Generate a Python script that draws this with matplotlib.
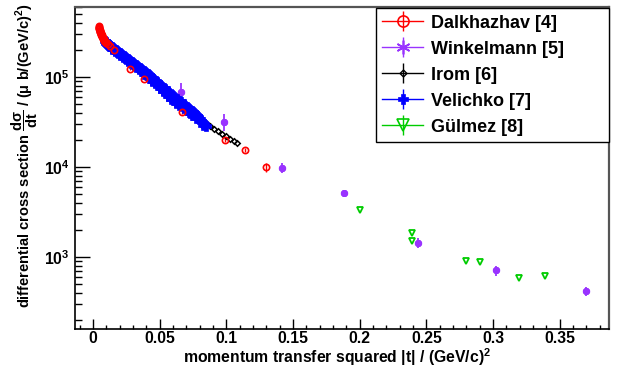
import matplotlib
matplotlib.use("Agg")
import matplotlib.pyplot as plt
from matplotlib.lines import Line2D
from matplotlib.ticker import FixedLocator, FixedFormatter, NullFormatter

# cross-section data, t in (GeV/c)^2, dsigma/dt in mub/(GeV/c)^2
dalk_t = [0.0042, 0.0044, 0.0045, 0.0047, 0.0048, 0.0050, 0.0051, 0.0053, 0.0055,
          0.0056, 0.0058, 0.0060, 0.0062, 0.0063, 0.0065, 0.0067, 0.0069, 0.0070,
          0.0073, 0.0075, 0.0078, 0.0080, 0.0083, 0.0085, 0.0088, 0.0090, 0.0095,
          0.0100, 0.0110, 0.0130, 0.0160, 0.0280, 0.0380, 0.0667, 0.0987, 0.1140,
          0.1300]
dalk_y = [3.67e5, 3.58e5, 3.52e5, 3.49e5, 3.40e5, 3.38e5, 3.28e5, 3.26e5, 3.18e5,
          3.16e5, 3.10e5, 3.03e5, 3.00e5, 2.95e5, 2.92e5, 2.86e5, 2.84e5, 2.80e5,
          2.76e5, 2.72e5, 2.68e5, 2.63e5, 2.60e5, 2.55e5, 2.53e5, 2.49e5, 2.45e5,
          2.40e5, 2.34e5, 2.20e5, 2.02e5, 1.24e5, 9.6e4, 4.1e4, 2.0e4, 1.55e4,
          1.0e4]
dalk_err = [6e3, 6e3, 6e3, 6e3, 6e3, 6e3, 6e3, 6e3, 6e3, 6e3, 6e3, 5e3, 5e3, 5e3,
            5e3, 5e3, 5e3, 5e3, 5e3, 5e3, 5e3, 5e3, 5e3, 5e3, 5e3, 5e3, 5e3, 5e3,
            5e3, 4e3, 4e3, 3e3, 2e3, 1.5e3, 1.2e3, 8e2, 1.2e3]

wink_t = [0.066, 0.098, 0.1418, 0.188, 0.2435, 0.302, 0.370]
wink_y = [6.8e4, 3.2e4, 9.9e3, 5.2e3, 1.45e3, 711, 415]
wink_err = [1.9e4, 7e3, 1.3e3, 4e2, 1.9e2, 90, 45]

irom_t = [0.070, 0.073, 0.076, 0.079, 0.082, 0.085, 0.088, 0.091, 0.094, 0.097,
          0.100, 0.103, 0.106, 0.108]
irom_y = [4.24e4, 3.97e4, 3.72e4, 3.49e4, 3.27e4, 3.06e4, 2.87e4, 2.69e4, 2.52e4,
          2.36e4, 2.21e4, 2.07e4, 1.95e4, 1.86e4]

vel_t = [0.0090, 0.0095, 0.0100, 0.0105, 0.0110, 0.0115, 0.0120, 0.0125, 0.0130,
         0.0140, 0.0145, 0.0150, 0.0160, 0.0165, 0.0170, 0.0180, 0.0185, 0.0190,
         0.0200, 0.0205, 0.0210, 0.0220, 0.0225, 0.0230, 0.0240, 0.0245, 0.0250,
         0.0260, 0.0265, 0.0270, 0.0280, 0.0285, 0.0290, 0.0300, 0.0305, 0.0310,
         0.0320, 0.0325, 0.0330, 0.0340, 0.0345, 0.0350, 0.0360, 0.0365, 0.0370,
         0.0380, 0.0385, 0.0390, 0.0400, 0.0405, 0.0410, 0.0420, 0.0425, 0.0430,
         0.0440, 0.0445, 0.0450, 0.0460, 0.0465, 0.0470, 0.0480, 0.0485, 0.0490,
         0.0500, 0.0505, 0.0510, 0.0520, 0.0525, 0.0530, 0.0540, 0.0545, 0.0550,
         0.0560, 0.0565, 0.0570, 0.0580, 0.0585, 0.0590, 0.0600, 0.0605, 0.0610,
         0.0620, 0.0625, 0.0630, 0.0640, 0.0645, 0.0650, 0.0660, 0.0665, 0.0670,
         0.0680, 0.0685, 0.0690, 0.0700, 0.0705, 0.0710, 0.0720, 0.0725, 0.0730,
         0.0740, 0.0745, 0.0750, 0.0760, 0.0770, 0.0775, 0.0780, 0.0790, 0.0800,
         0.0810, 0.0820, 0.0825, 0.0830, 0.0845]
vel_y = [2.50e5, 2.38e5, 2.44e5, 2.33e5, 2.36e5, 2.26e5, 2.30e5, 2.20e5, 2.23e5,
         2.18e5, 2.08e5, 2.12e5, 2.07e5, 1.96e5, 2.02e5, 1.96e5, 1.86e5, 1.90e5,
         1.86e5, 1.76e5, 1.81e5, 1.76e5, 1.67e5, 1.72e5, 1.68e5, 1.58e5, 1.63e5,
         1.60e5, 1.51e5, 1.55e5, 1.52e5, 1.43e5, 1.47e5, 1.44e5, 1.36e5, 1.40e5,
         1.37e5, 1.29e5, 1.33e5, 1.30e5, 1.22e5, 1.27e5, 1.23e5, 1.16e5, 1.20e5,
         1.18e5, 1.10e5, 1.14e5, 1.12e5, 1.05e5, 1.08e5, 1.05e5, 9.8e4, 1.02e5,
         9.9e4, 9.2e4, 9.6e4, 9.3e4, 8.6e4, 9.0e4, 8.8e4, 8.1e4, 8.5e4, 8.3e4,
         7.6e4, 7.9e4, 7.8e4, 7.0e4, 7.5e4, 7.4e4, 6.7e4, 7.1e4, 7.0e4, 6.2e4,
         6.6e4, 6.3e4, 5.8e4, 6.4e4, 6.2e4, 5.6e4, 6.0e4, 5.6e4, 5.2e4, 5.7e4,
         5.5e4, 4.9e4, 5.4e4, 5.3e4, 4.8e4, 5.1e4, 5.0e4, 4.5e4, 4.8e4, 4.7e4,
         4.3e4, 4.6e4, 4.4e4, 4.0e4, 4.35e4, 4.2e4, 3.8e4, 4.1e4, 4.0e4, 3.85e4,
         3.55e4, 3.7e4, 3.6e4, 3.45e4, 3.3e4, 3.15e4, 2.95e4, 3.0e4, 2.85e4]

gulm_t = [0.200, 0.2395, 0.2395, 0.280, 0.290, 0.3193, 0.339]
gulm_y = [3370, 1870, 1500, 912, 890, 589, 610]

labels = ["Dalkhazhav [4]", "Winkelmann [5]", "Irom [6]", "Velichko [7]", "G\u00fclmez [8]"]

red = "#ff0000"
purple = "#9933ff"
blue = "#0000ff"
green = "#00cc00"
black = "black"
star = (6, 2, 0)

plt.rcParams["font.family"] = ["Liberation Sans", "DejaVu Sans"]
plt.rcParams["font.weight"] = "bold"
plt.rcParams["mathtext.fontset"] = "custom"
plt.rcParams["mathtext.rm"] = "Liberation Sans:bold"
plt.rcParams["mathtext.it"] = "Liberation Sans:bold"
plt.rcParams["mathtext.bf"] = "Liberation Sans:bold"
fs = 11.3
legfs = 13

fig = plt.figure(figsize=(6.19, 3.71), dpi=100)
ax = fig.add_axes([75 / 619, 1 - 329.3 / 371, 534 / 619, 322 / 371])

ax.errorbar(dalk_t, dalk_y, yerr=dalk_err, fmt="o", ms=4.5, mfc="none", mec=red,
            mew=1.2, ecolor=red, elinewidth=1, capsize=0)
ax.errorbar(wink_t, wink_y, yerr=wink_err, fmt="none", ecolor=purple,
            elinewidth=1.3, capsize=0)
ax.plot(wink_t, wink_y, ls="none", marker=star, ms=5, mec=purple, mew=2.2)
ax.plot(irom_t, irom_y, ls="none", marker="D", ms=2.8, mfc="none", mec=black, mew=1.1)
ax.plot(vel_t, vel_y, ls="none", marker="P", ms=6.5, color=blue, mew=0.5)
ax.plot(gulm_t, gulm_y, ls="none", marker="v", ms=4.5, mfc="none", mec=green, mew=1.3)

ax.set_yscale("log")
ax.set_xlim(-0.0135, 0.387)
ax.set_ylim(157, 6.0e5)

xt = [0, 0.05, 0.1, 0.15, 0.2, 0.25, 0.3, 0.35]
ax.xaxis.set_major_locator(FixedLocator(xt))
ax.xaxis.set_major_formatter(FixedFormatter(["0", "0.05", "0.1", "0.15", "0.2", "0.25", "0.3", "0.35"]))
ax.xaxis.set_minor_locator(FixedLocator([k * 0.01 for k in range(-1, 39)]))

ax.yaxis.set_major_locator(FixedLocator([1e3, 1e4, 1e5]))
ax.yaxis.set_major_formatter(FixedFormatter(["$10^{3}$", "$10^{4}$", "$10^{5}$"]))
ymin = [k * 10.0 ** e for e in (2, 3, 4, 5) for k in range(2, 10)]
ax.yaxis.set_minor_locator(FixedLocator(ymin))
ax.yaxis.set_minor_formatter(NullFormatter())

ax.tick_params(axis="x", which="major", direction="in", length=7.2, width=1,
               labelsize=fs, pad=1.5, top=False)
ax.tick_params(axis="x", which="minor", direction="in", length=3.1, width=1, top=False)
ax.tick_params(axis="y", which="major", direction="in", length=10.5, width=1,
               labelsize=fs, pad=4, right=False)
ax.tick_params(axis="y", which="minor", direction="in", length=5.3, width=1, right=False)

for s in ("left", "bottom"):
    ax.spines[s].set_color("black")
    ax.spines[s].set_linewidth(1.2)
for s in ("top", "right"):
    ax.spines[s].set_color("#555555")
    ax.spines[s].set_linewidth(1.6)

fig.text(337 / 619, 1 - 357 / 371, "momentum transfer squared |t| / (GeV/c)$^{2}$",
         ha="center", va="center", fontsize=fs, fontweight="bold")
fig.text(25 / 619, 1 - 3 / 371,
         "differential cross section $\\dfrac{d\\sigma}{dt}$ / (\u03bc b/(GeV/c)$^{2}$)",
         rotation=90, ha="center", va="top", fontsize=10.5, fontweight="bold")

handles = []
for c, m, kw in [(red, "o", dict(mfc="none", ms=8, mew=1.2)),
                 (purple, star, dict(ms=10, mew=1.2)),
                 (black, "D", dict(ms=3.5, mfc="none", mew=1)),
                 (blue, "P", dict(ms=7, mew=0.5)),
                 (green, "v", dict(mfc="none", ms=8, mew=1.2))]:
    hline = Line2D([], [], color=c, lw=1)
    vbar = Line2D([], [], color=c, marker="|", ms=14, mew=1, ls="none")
    mk = Line2D([], [], color=c, marker=m, ls="none", mec=c, **kw)
    handles.append((hline, vbar, mk))

leg = ax.legend(handles, labels, loc="upper left", mode="expand",
                bbox_to_anchor=(0.5637, 0.595, 0.4363, 0.402), borderaxespad=0,
                prop={"weight": "bold", "size": legfs}, handlelength=2.25,
                handletextpad=0.45, labelspacing=0.5, borderpad=0.35,
                fancybox=False, framealpha=1, edgecolor="black")
leg.get_frame().set_linewidth(1)

fig.savefig("out.png", dpi=100)
